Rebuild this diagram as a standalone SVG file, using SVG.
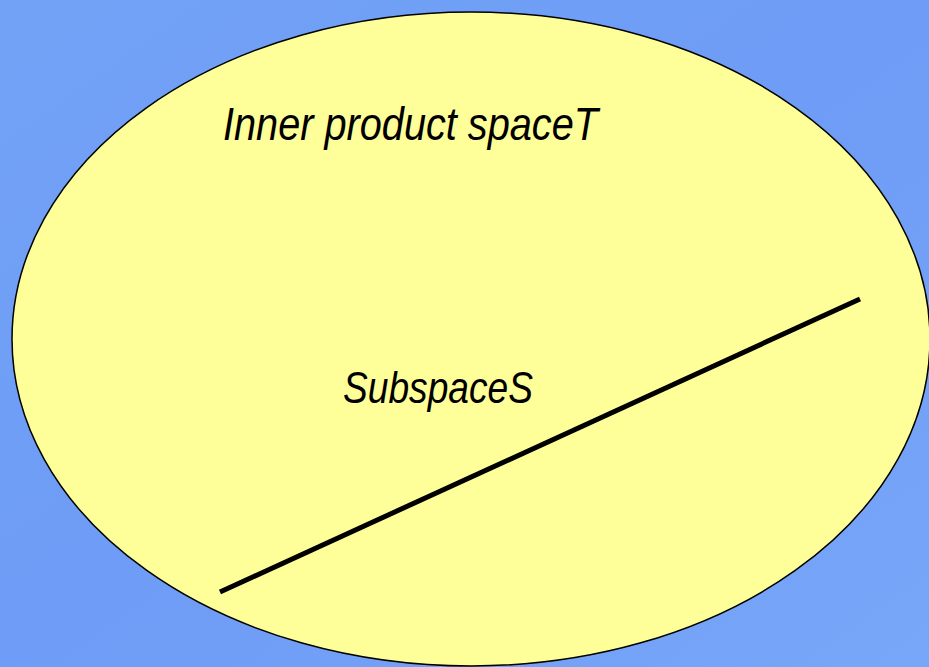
<svg xmlns="http://www.w3.org/2000/svg" width="929" height="667" viewBox="0 0 929 667">
<defs>
<linearGradient id="bg" x1="0" y1="0" x2="1" y2="1">
<stop offset="0" stop-color="#72a2f6"/>
<stop offset="0.5" stop-color="#6e9cf6"/>
<stop offset="1" stop-color="#78a6f8"/>
</linearGradient>
</defs>
<style>
.lbl{font-family:"Liberation Sans",Arial,sans-serif;font-style:italic;fill:#000}
</style>
<rect width="929" height="667" fill="url(#bg)"/>
<g id="space-T">
<ellipse cx="471" cy="339" rx="459" ry="327" fill="#ffff99" stroke="#000" stroke-width="1.5"/>
<text class="lbl" x="223" y="140" font-size="47" textLength="375" lengthAdjust="spacingAndGlyphs">Inner product spaceT</text>
</g>
<g id="subspace-S">
<text class="lbl" x="343" y="403" font-size="45" textLength="190" lengthAdjust="spacingAndGlyphs">SubspaceS</text>
</g>
<g id="connectors">
<line x1="220" y1="592" x2="860" y2="299" stroke="#000" stroke-width="5"/>
</g>
</svg>
